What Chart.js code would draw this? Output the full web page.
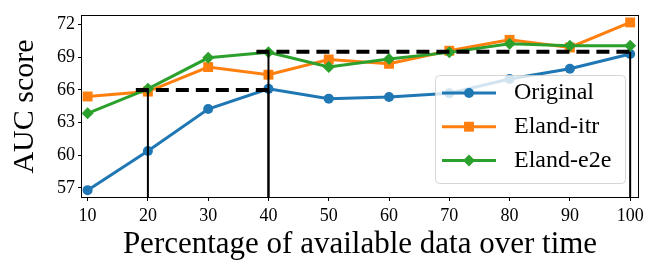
<!DOCTYPE html>
<html>
<head>
<meta charset="utf-8">
<script src="https://cdn.jsdelivr.net/npm/chart.js@4.4.0/dist/chart.umd.min.js"></script>
<style>
  html, body { margin: 0; padding: 0; background: #fff; }
  #wrap { width: 664px; height: 277px; }
</style>
</head>
<body>
<div id="wrap"><canvas id="aucChart"></canvas></div>
<script>
// values
const percentages = [10, 20, 30, 40, 50, 60, 70, 80, 90, 100];
const originalAuc = [56.8, 60.4, 64.25, 66.1, 65.2, 65.35, 65.7, 67.0, 67.95, 69.3];
const elandItrAuc = [65.4, 65.85, 68.1, 67.4, 68.8, 68.4, 69.6, 70.6, 69.9, 72.2];
const elandE2eAuc = [63.85, 66.1, 68.95, 69.45, 68.1, 68.85, 69.45, 70.25, 70.05, 70.05];

const xTicks = [10, 20, 30, 40, 50, 60, 70, 80, 90, 100];
const yTicks = [57, 60, 63, 66, 69, 72];

// reached-level markers: [from %, to %, AUC level]
const levelLines = [[20, 40, 66], [40, 100, 69.5]];

const X_MIN = 9.07, X_MAX = 101.3;
const Y_MIN = 56.17, Y_MAX = 72.79;

Chart.defaults.font.family = "'Liberation Serif', 'DejaVu Serif', serif";
Chart.defaults.color = '#000';

function series(label, values, color, pointStyle, radius, order) {
    return {
        label: label,
        data: values.map((v, i) => ({ x: percentages[i], y: v })),
        borderColor: color,
        backgroundColor: color,
        borderWidth: 3,
        pointStyle: pointStyle,
        pointRadius: radius,
        pointHoverRadius: radius,
        pointBorderWidth: 0,
        inLegend: true,
        order: order
    };
}

function refLine(points, width, dash) {
    return {
        data: points,
        borderColor: '#000',
        borderWidth: width,
        borderDash: dash,
        pointRadius: 0,
        pointHoverRadius: 0,
        clip: 0,
        order: 0
    };
}

const datasets = [
    series('Original', originalAuc, '#1f77b4', 'circle', 5, 3),
    series('Eland-itr', elandItrAuc, '#ff7f0e', 'rect', 7, 2),
    series('Eland-e2e', elandE2eAuc, '#2ca02c', 'rectRot', 6, 1)
];

levelLines.forEach(([from, to, level]) => {
    datasets.push(refLine([{ x: from - 2, y: level }, { x: to + 1, y: level }], 4, [13, 7]));
    datasets.push(refLine([{ x: from, y: Y_MIN }, { x: from, y: level }], 2, []));
    datasets.push(refLine([{ x: to, y: Y_MIN }, { x: to, y: level }], 2, []));
});

// axes box on top of the lines
const frameBox = {
    id: 'frameBox',
    afterDatasetsDraw(chart) {
        const { ctx, chartArea: a } = chart;
        ctx.save();
        ctx.strokeStyle = '#000';
        ctx.lineWidth = 1;
        ctx.strokeRect(Math.round(a.left) - 0.5, Math.round(a.top) - 0.5,
            Math.round(a.right - a.left) + 1, Math.round(a.bottom - a.top) + 1);
        ctx.restore();
    }
};

// matplotlib-like legend in the lower right corner
const legendBox = {
    id: 'legendBox',
    afterDraw(chart) {
        const { ctx, chartArea: a } = chart;
        const items = chart.data.datasets.filter(d => d.inLegend);
        const w = 190, h = 108, rowH = 33.7;
        const x = Math.round(a.right - 13 - w), y = Math.round(a.bottom - 14 - h);
        ctx.save();
        ctx.beginPath();
        ctx.roundRect(x + 0.5, y + 0.5, w, h, 4);
        ctx.fillStyle = 'rgba(255,255,255,0.8)';
        ctx.fill();
        ctx.strokeStyle = 'rgba(204,204,204,0.8)';
        ctx.lineWidth = 1;
        ctx.stroke();
        items.forEach((d, i) => {
            const cy = y + 18 + i * rowH;
            ctx.beginPath();
            ctx.moveTo(x + 7, cy);
            ctx.lineTo(x + 61, cy);
            ctx.strokeStyle = d.borderColor;
            ctx.lineWidth = 3;
            ctx.stroke();
            ctx.fillStyle = d.backgroundColor;
            Chart.helpers.drawPoint(ctx, {
                pointStyle: d.pointStyle, radius: d.pointRadius, borderWidth: 0, rotation: 0
            }, x + 34, cy);
            ctx.fillStyle = '#000';
            ctx.font = "24px 'Liberation Serif', serif";
            ctx.textBaseline = 'middle';
            ctx.textAlign = 'left';
            ctx.fillText(d.label, x + 79, cy);
        });
        ctx.restore();
    }
};

const ctx = document.getElementById('aucChart').getContext('2d');
const aucChart = new Chart(ctx, {
    type: 'line',
    data: { datasets: datasets },
    options: {
        responsive: true,
        maintainAspectRatio: false,
        animation: false,
        layout: { padding: { left: 0, right: 26, top: 16, bottom: 0 } },
        plugins: {
            legend: { display: false },
            tooltip: { enabled: false }
        },
        scales: {
            x: {
                type: 'linear',
                min: X_MIN,
                max: X_MAX,
                afterBuildTicks: s => { s.ticks = xTicks.map(v => ({ value: v })); },
                afterFit: s => { s.height = 80; },
                grid: {
                    drawOnChartArea: false,
                    tickLength: 4,
                    color: '#000'
                },
                border: { display: false },
                ticks: {
                    font: { size: 18 },
                    padding: 4,
                    maxRotation: 0,
                    autoSkip: false
                },
                title: {
                    display: true,
                    text: 'Percentage of available data over time',
                    font: { size: 31 },
                    padding: { top: 0, bottom: 14 }
                }
            },
            y: {
                min: Y_MIN,
                max: Y_MAX,
                afterBuildTicks: s => { s.ticks = yTicks.map(v => ({ value: v })); },
                afterFit: s => { s.width = 82; },
                grid: {
                    drawOnChartArea: false,
                    tickLength: 4,
                    color: '#000'
                },
                border: { display: false },
                ticks: {
                    font: { size: 18 },
                    padding: 3,
                    autoSkip: false
                },
                title: {
                    display: true,
                    text: 'AUC score',
                    font: { size: 30 },
                    padding: { top: 7, bottom: 0 }
                }
            }
        }
    },
    plugins: [frameBox, legendBox]
});
</script>
</body>
</html>
